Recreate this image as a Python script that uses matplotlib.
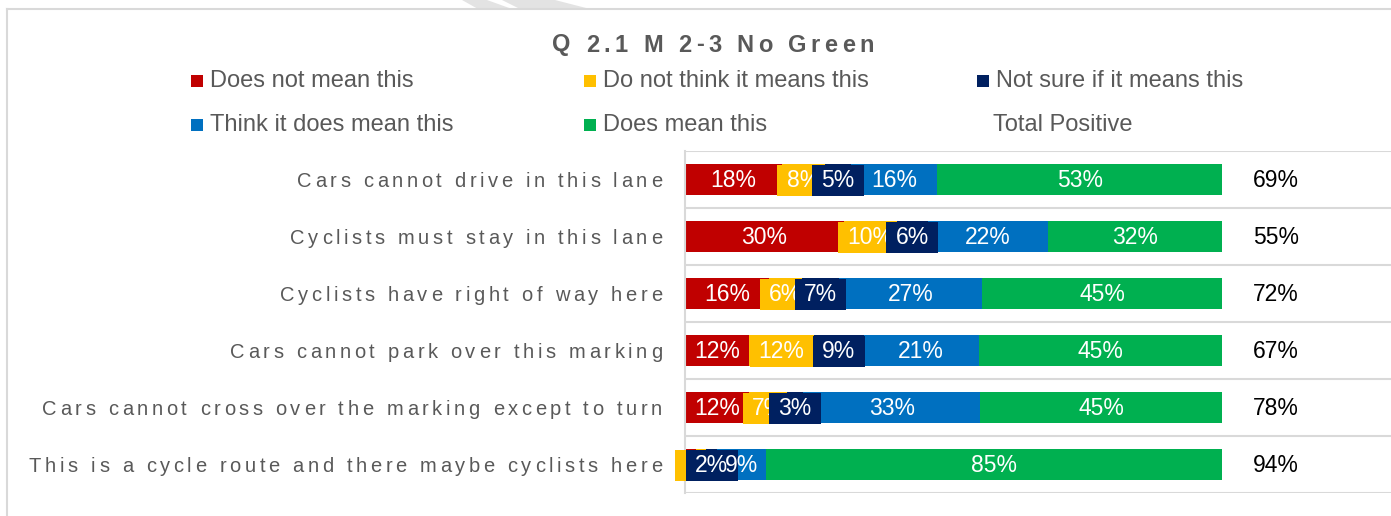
import matplotlib
matplotlib.use('Agg')
import matplotlib.pyplot as plt
from matplotlib.patches import Rectangle, Polygon
from matplotlib.font_manager import FontProperties, findfont, get_font
from matplotlib.transforms import offset_copy, blended_transform_factory
import numpy as np

# данные
categories = [
    'Cars cannot drive in this lane',
    'Cyclists must stay in this lane',
    'Cyclists have right of way here',
    'Cars cannot park over this marking',
    'Cars cannot cross over the marking except to turn',
    'This is a cycle route and there maybe cyclists here',
]
does_not_mean = [18.0, 29.6, 15.6, 12.0, 12.0, 2.0]
do_not_think = [8.0, 9.8, 6.2, 12.0, 7.0, 2.0]
not_sure = [5.0, 5.8, 6.9, 9.3, 3.0, 2.0]
think_does = [16.0, 22.4, 26.7, 21.4, 33.0, 9.0]
does_mean = [53.0, 32.4, 44.6, 45.3, 45.0, 85.0]
total_positive = [69, 55, 72, 67, 78, 94]

series_names = ['Does not mean this', 'Do not think it means this', 'Not sure if it means this',
                'Think it does mean this', 'Does mean this']
colors = ['#C00000', '#FFC000', '#002060', '#0070C0', '#00B050']
boxed = [False, True, True, False, False]  # подписи с заливкой

GREY = '#595959'
LINE = '#D9D9D9'
W, H = 1391, 516

fig = plt.figure(figsize=(W / 100, H / 100), dpi=100)


def px(x, y):
    return x / W, 1 - y / H


def tracked_text(x, y, s, size, track, transform, ha='right', weight='normal', color=GREY):
    '''текст с разрядкой (по буквам)'''
    fp = FontProperties(family='Liberation Sans', size=size, weight=weight)
    font = get_font(findfont(fp))
    font.set_size(size, 72)
    adv = [font.load_char(ord(c)).linearHoriAdvance / 65536 for c in s]
    total = sum(adv) + track * (len(s) - 1)
    pos = {'right': -total, 'center': -total / 2, 'left': 0}[ha]
    for c, a in zip(s, adv):
        tr = offset_copy(transform, fig=fig, x=pos, y=0, units='points')
        fig.text(x, y, c, transform=tr, fontproperties=fp, ha='left', va='center', color=color)
        pos += a + track


# водяной знак и рамка
for poly in [[(462, 0), (487, 0), (512, 9), (478, 9)], [(502, 0), (555, 0), (590, 9), (520, 9)]]:
    fig.patches.append(Polygon([px(*p) for p in poly], closed=True, transform=fig.transFigure,
                               facecolor='#E3E3E3', edgecolor='none'))
fig.add_artist(plt.Line2D([7 / W, 1], [1 - 9 / H] * 2, color=LINE, lw=1.5))
fig.add_artist(plt.Line2D([7 / W] * 2, [0, 1 - 9 / H], color=LINE, lw=1.5))

# заголовок
tracked_text(px(713, 0)[0], px(0, 45)[1], 'Q 2.1 M 2-3 No Green', 17, 3.2,
             fig.transFigure, ha='center', weight='bold')

# легенда вручную
leg_pos = [(197, 81), (590, 81), (983, 81), (197, 125), (590, 125)]
for (lx, ly), name, col in zip(leg_pos, series_names, colors):
    fig.patches.append(Rectangle(px(lx - 6, ly + 6), 12 / W, 12 / H, transform=fig.transFigure,
                                 facecolor=col, edgecolor='none'))
    fig.text(*px(lx + 13, ly), name, fontsize=17, family='Liberation Sans', color=GREY,
             va='center', ha='left')
fig.text(*px(993, 125), 'Total Positive', fontsize=17, family='Liberation Sans', color=GREY,
         va='center', ha='left')

# оси
x0, x1, top, bottom = 685, 1400, 151, 493
ax = fig.add_axes([x0 / W, 1 - bottom / H, (x1 - x0) / W, (bottom - top) / H])
scale = (1222 - 685) / 100
ax.set_xlim(0, (x1 - x0) / scale)
ax.set_ylim(len(categories) - 0.5, -0.5)
ax.set_xticks([])
ax.set_yticks([])
for s in ['top', 'right', 'bottom']:
    ax.spines[s].set_visible(False)
ax.spines['left'].set_color(LINE)
ax.spines['left'].set_linewidth(1.5)
ax.hlines(np.arange(len(categories) + 1) - 0.5, 0, ax.get_xlim()[1], color=LINE, lw=1.5, zorder=1)

y = np.arange(len(categories))
data = [does_not_mean, do_not_think, not_sure, think_does, does_mean]
left = np.zeros(len(categories))
for vals, col in zip(data, colors):
    ax.barh(y, vals, left=left, height=0.56, color=col, zorder=2)
    left += np.array(vals)

left = np.zeros(len(categories))
for vals, col, bx in zip(data, colors, boxed):
    for i, v in enumerate(vals):
        kw = {}
        if bx:
            kw['bbox'] = dict(boxstyle='square,pad=0.4', mutation_aspect=0.4, fc=col, ec='none')
        ax.text(left[i] + v / 2, i + 0.02, f'{round(v)}%', color='white', fontsize=16.5,
                family='Liberation Sans', ha='center', va='center', zorder=3, **kw)
    left += np.array(vals)

for i, t in enumerate(total_positive):
    ax.text(110, i + 0.02, f'{t}%', color='black', fontsize=16.5, family='Liberation Sans',
            ha='center', va='center')

# подписи категорий
cat_tr = blended_transform_factory(fig.transFigure, ax.transData)
for i, c in enumerate(categories):
    tracked_text(662 / W, i + 0.03, c, 14.5, 2.62, cat_tr, ha='right')

fig.savefig('out.png', dpi=100)
